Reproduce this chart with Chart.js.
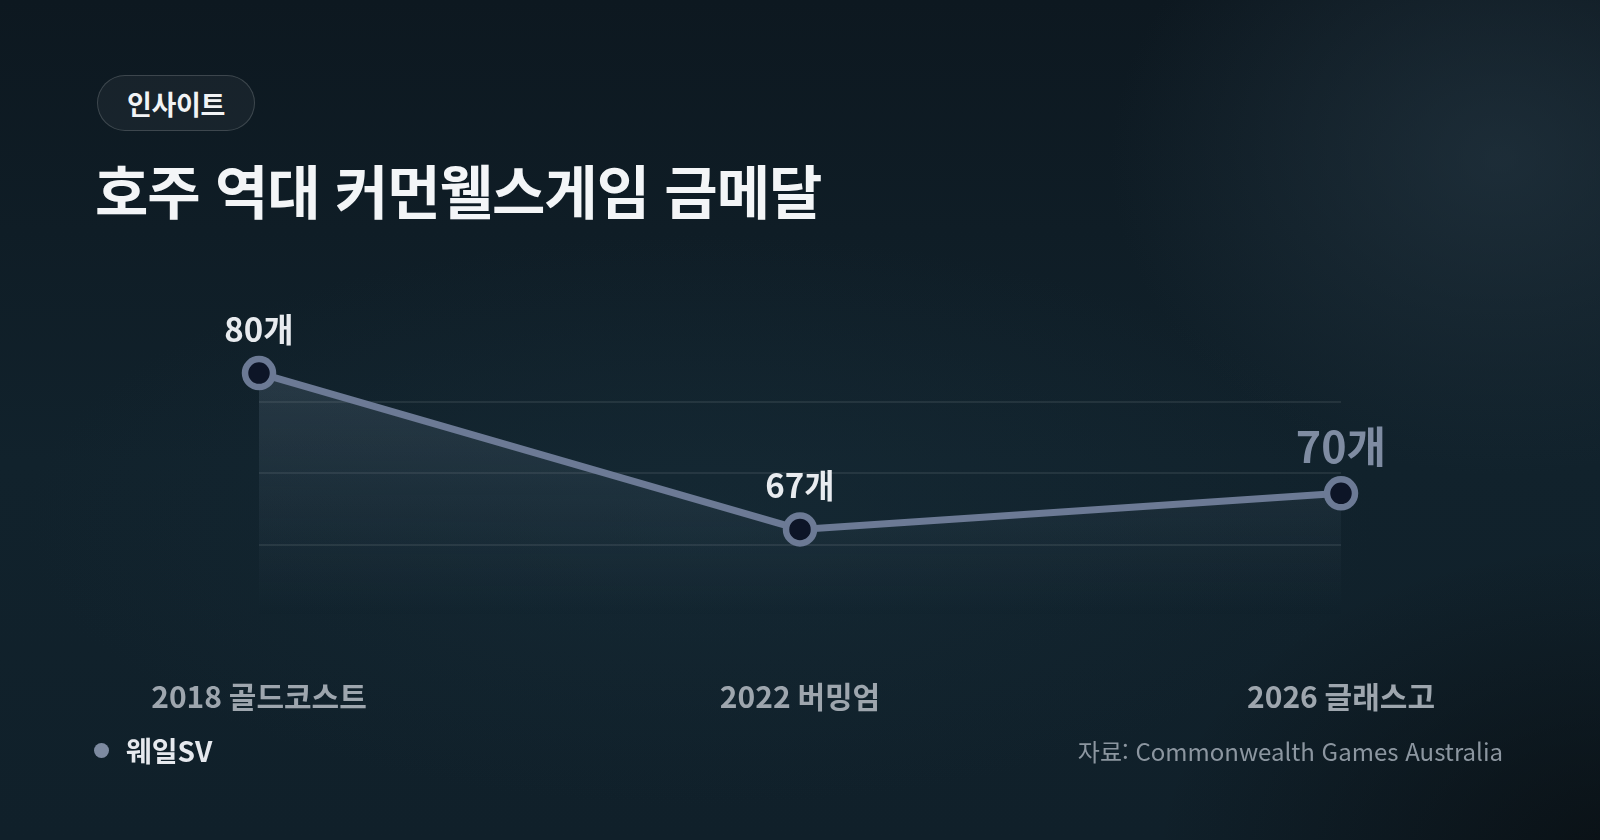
<!DOCTYPE html>
<html lang="ko">
<head>
<meta charset="utf-8">
<script src="https://cdn.jsdelivr.net/npm/chart.js@4.4.1/dist/chart.umd.min.js"></script>
<style>
  html,body{margin:0;padding:0;}
  body{
    width:1600px;height:840px;overflow:hidden;position:relative;
    font-family:"Noto Sans CJK KR","Noto Sans",sans-serif;
    background:
      radial-gradient(ellipse 520px 420px at 1500px 160px, rgba(36,54,66,0.65), rgba(36,54,66,0) 75%),
      radial-gradient(ellipse 620px 420px at 1620px 860px, rgba(8,12,15,0.75), rgba(8,12,15,0) 75%),
      radial-gradient(ellipse 900px 380px at 700px 520px, rgba(24,46,58,0.5), rgba(24,46,58,0) 75%),
      linear-gradient(180deg, #0d1820 0%, #11222c 55%, #10202a 100%);
  }
  #badge{
    position:absolute;left:97px;top:75px;width:156px;height:54px;
    border:1.5px solid rgba(255,255,255,0.16);border-radius:28px;
    background:rgba(255,255,255,0.045);
    color:#f1f3f5;font-weight:700;font-size:27px;letter-spacing:-0.3px;
    display:flex;align-items:center;justify-content:center;line-height:1;
  }
  #title{
    position:absolute;left:95px;top:149px;margin:0;
    color:#f3f5f7;font-weight:700;font-size:58px;letter-spacing:-1px;line-height:80px;white-space:nowrap;
  }
  #legend{
    position:absolute;left:94px;top:732px;height:36px;display:flex;align-items:center;
    color:#e6e9ee;font-weight:700;font-size:28px;
  }
  #legend .dot{width:15px;height:15px;border-radius:50%;background:#7d8aa0;margin-right:17px;}
  #source{
    position:absolute;right:97px;top:732px;height:36px;display:flex;align-items:center;
    color:#8c96a0;font-size:24px;font-weight:400;white-space:nowrap;
  }
  canvas{position:absolute;left:0;top:0;}
</style>
</head>
<body>
<div id="badge">인사이트</div>
<h1 id="title">호주 역대 커먼웰스게임 금메달</h1>
<canvas id="c" width="1600" height="840"></canvas>
<div id="legend"><span class="dot"></span>웨일SV</div>
<div id="source">자료: Commonwealth Games Australia</div>
<script>
const categories = ["2018 골드코스트", "2022 버밍엄", "2026 글래스고"];
const goldMedals = [80, 67, 70];
const valueLabels = ["80개", "67개", "70개"];
const seriesName = "웨일SV";

const yMin = 59.8, yMax = 83.5;
const gridFractions = [0.25, 0.5, 0.75];

const lineColor = "#6c7a95";

const valueLabelPlugin = {
  id: "valueLabels",
  afterDatasetsDraw(chart) {
    const meta = chart.getDatasetMeta(0);
    const ctx = chart.ctx;
    ctx.save();
    ctx.textAlign = "center";
    ctx.textBaseline = "middle";
    meta.data.forEach((pt, i) => {
      const last = i === meta.data.length - 1;
      ctx.font = (last ? "700 43px" : "700 33px") + ' "Noto Sans CJK KR", sans-serif';
      ctx.fillStyle = last ? "#7f8ca2" : "#e8ebef";
      ctx.fillText(valueLabels[i], pt.x, pt.y - (last ? 47 : 44));
    });
    ctx.restore();
  }
};

const ctx = document.getElementById("c").getContext("2d");
new Chart(ctx, {
  type: "line",
  data: {
    labels: categories,
    datasets: [{
      label: seriesName,
      data: goldMedals,
      borderColor: lineColor,
      borderWidth: 7,
      pointRadius: 14,
      pointHoverRadius: 14,
      pointBorderWidth: 6.5,
      pointBorderColor: lineColor,
      pointBackgroundColor: "#0d1527",
      tension: 0,
      clip: false,
      fill: "start",
      backgroundColor(c) {
        const a = c.chart.chartArea;
        if (!a) return "rgba(0,0,0,0)";
        const g = c.chart.ctx.createLinearGradient(0, a.top, 0, a.bottom);
        g.addColorStop(0, "rgba(125,145,165,0.26)");
        g.addColorStop(0.55, "rgba(115,135,155,0.11)");
        g.addColorStop(1, "rgba(110,130,150,0)");
        return g;
      }
    }]
  },
  options: {
    responsive: false,
    animation: false,
    devicePixelRatio: 1,
    layout: { padding: { left: 259, right: 259, top: 331, bottom: 62 } },
    plugins: { legend: { display: false }, tooltip: { enabled: false } },
    scales: {
      x: {
        offset: false,
        grid: { display: false, drawTicks: false },
        border: { display: false },
        ticks: {
          padding: 63,
          color: "#9ea6ae",
          font: { family: '"Noto Sans CJK KR", sans-serif', size: 30, weight: "600" },
          maxRotation: 0,
          autoSkip: false
        }
      },
      y: {
        min: yMin,
        max: yMax,
        afterBuildTicks(scale) {
          scale.ticks = gridFractions.map(f => ({ value: yMin + (yMax - yMin) * f }));
        },
        grid: { color: "rgba(255,255,255,0.08)", lineWidth: 2, drawTicks: false },
        border: { display: false },
        ticks: { display: false }
      }
    }
  },
  plugins: [valueLabelPlugin]
});
</script>
</body>
</html>
